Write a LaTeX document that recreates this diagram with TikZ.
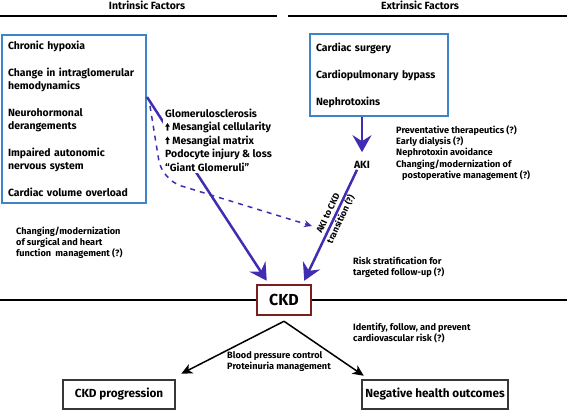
\documentclass[tikz,border=0pt]{standalone}
\usepackage{fontspec}
\setmainfont{Fira Sans}
\usetikzlibrary{arrows.meta,calc,positioning}

\definecolor{boxblue}{RGB}{62,132,200}
\definecolor{arrowblue}{RGB}{64,46,178}
\definecolor{ckdred}{RGB}{122,30,30}
\definecolor{outgray}{RGB}{55,55,55}

\newcommand{\up}{\tikz[baseline=0pt]\fill (1.1bp,0bp) rectangle (2.7bp,4.6bp)
    (-0.4bp,4.2bp) -- (1.9bp,7.6bp) -- (4.2bp,4.2bp) -- cycle;\hspace{2.5bp}}

\begin{document}
\begin{tikzpicture}[x=1bp,y=-1bp,
    every node/.style={font=\bfseries},
    factorbox/.style={draw=boxblue,line width=2bp,align=left,inner xsep=6bp,
        font=\bfseries\fontsize{10.5}{13}\selectfont},
    note/.style={align=left,inner sep=0pt,anchor=west,
        font=\bfseries\fontsize{9.2}{11.3}\selectfont},
    outcome/.style={draw=outgray,line width=2.5bp,minimum height=29bp,
        font=\bfseries\fontsize{11.8}{13}\selectfont},
    bigarrow/.style={draw=arrowblue,line width=2.5bp,
        -{Stealth[length=17bp,width=19bp,inset=6bp]}},
    smallarrow/.style={draw=black,line width=1.5bp,
        -{Stealth[length=11bp,width=10bp,inset=3bp]}}]
        \useasboundingbox (0,0) rectangle (567,410);

        % Headers
        \node[font=\bfseries\fontsize{10.5}{12}\selectfont] (intrtitle) at (147,5.5) {Intrinsic Factors};
        \node[font=\bfseries\fontsize{10.5}{12}\selectfont] (extrtitle) at (420,5.5) {Extrinsic Factors};
        \draw[line width=1.5bp] (0,16) -- (277,16);
        \draw[line width=1.5bp] (288,16) -- (567,16);

        % Factor boxes
        \node[factorbox,text width=132bp,minimum height=168bp,anchor=north west] (intrinsic) at (1,34)
            {Chronic hypoxia\\[14bp]
             Change in intraglomerular\\hemodynamics\\[14bp]
             Neurohormonal\\derangements\\[14bp]
             Impaired autonomic\\nervous system\\[14bp]
             Cardiac volume overload};
        \node[factorbox,text width=126bp,minimum height=82bp,anchor=north west] (extrinsic) at (309,33)
            {Cardiac surgery\\[14bp]
             Cardiopulmonary bypass\\[14bp]
             Nephrotoxins};

        % AKI and CKD
        \node[font=\bfseries\fontsize{10.5}{12}\selectfont,inner sep=1bp] (aki) at (362,165) {AKI};
        \node[draw=ckdred,line width=2.5bp,minimum width=54bp,minimum height=30bp,
            font=\bfseries\fontsize{16}{18}\selectfont] (ckd) at (284,300) {CKD};
        \draw[line width=1.2bp] (0,300) -- (ckd.west);
        \draw[line width=1.2bp] (ckd.east) -- (567,300);

        % Blue arrows
        \draw[bigarrow,shorten >=8bp] (extrinsic.south -| aki.north) -- (aki.north);
        \draw[bigarrow] ([yshift=-63bp]intrinsic.north east) -- ([xshift=11bp,yshift=3bp]ckd.north west);
        \coordinate (dashend) at (312,226);
        \draw[arrowblue,line width=1.5bp,dash pattern=on 5bp off 5bp,rounded corners=20bp,
            -{Stealth[length=8bp,width=7bp]}]
            ([xshift=3bp,yshift=-72bp]intrinsic.north east) -- (162,180) -- (dashend);
        \draw[bigarrow] ([xshift=-5bp]aki.south) --
            node[sloped,pos=0.42,inner sep=1bp,align=center,
                font=\bfseries\fontsize{9}{14}\selectfont] (akilabel) {AKI to CKD\\transition (?)}
            ([xshift=-8bp,yshift=3bp]ckd.north east);

        % Glomerular changes
        \node[fill=white,align=left,inner sep=2bp,anchor=west,
            font=\bfseries\fontsize{10.5}{13.5}\selectfont] (glom) at (163,140)
            {Glomerulosclerosis\\
             \up Mesangial cellularity\\
             \up Mesangial matrix\\
             Podocyte injury \& loss\\
             ``Giant Glomeruli''};

        % Notes
        \node[note,font=\bfseries\fontsize{9.2}{11.5}\selectfont] (prevent) at (396,153)
            {Preventative therapeutics (?)\\Early dialysis (?)\\Nephrotoxin avoidance\\
             Changing/modernization of\\\hspace*{6bp}postoperative management (?)};
        \node[note] (surgmgmt) at (16,243)
            {Changing/modernization\\of surgical and heart\\function\ \ management (?)};
        \node[note] (riskstrat) at (353,267.5) {Risk stratification for\\targeted follow-up (?)};
        \node[note] (cvrisk) at (353,333) {Identify, follow, and prevent\\cardiovascular risk (?)};
        \node[note] (bpcontrol) at (227,361.5) {Blood pressure control\\Proteinuria management};

        % Outcomes
        \node[outcome,minimum width=112bp] (prog) at (119,394.5) {CKD progression};
        \node[outcome,minimum width=146bp] (outcomes) at (435,394.5) {Negative health outcomes};
        \coordinate (apex) at ([yshift=-5bp]ckd.south);
        \draw[smallarrow] (apex) -- ([xshift=5bp,yshift=5bp]prog.north east);
        \draw[smallarrow] (apex) -- ([xshift=3bp,yshift=3bp]outcomes.north west);

    \end{tikzpicture}
\end{document}
